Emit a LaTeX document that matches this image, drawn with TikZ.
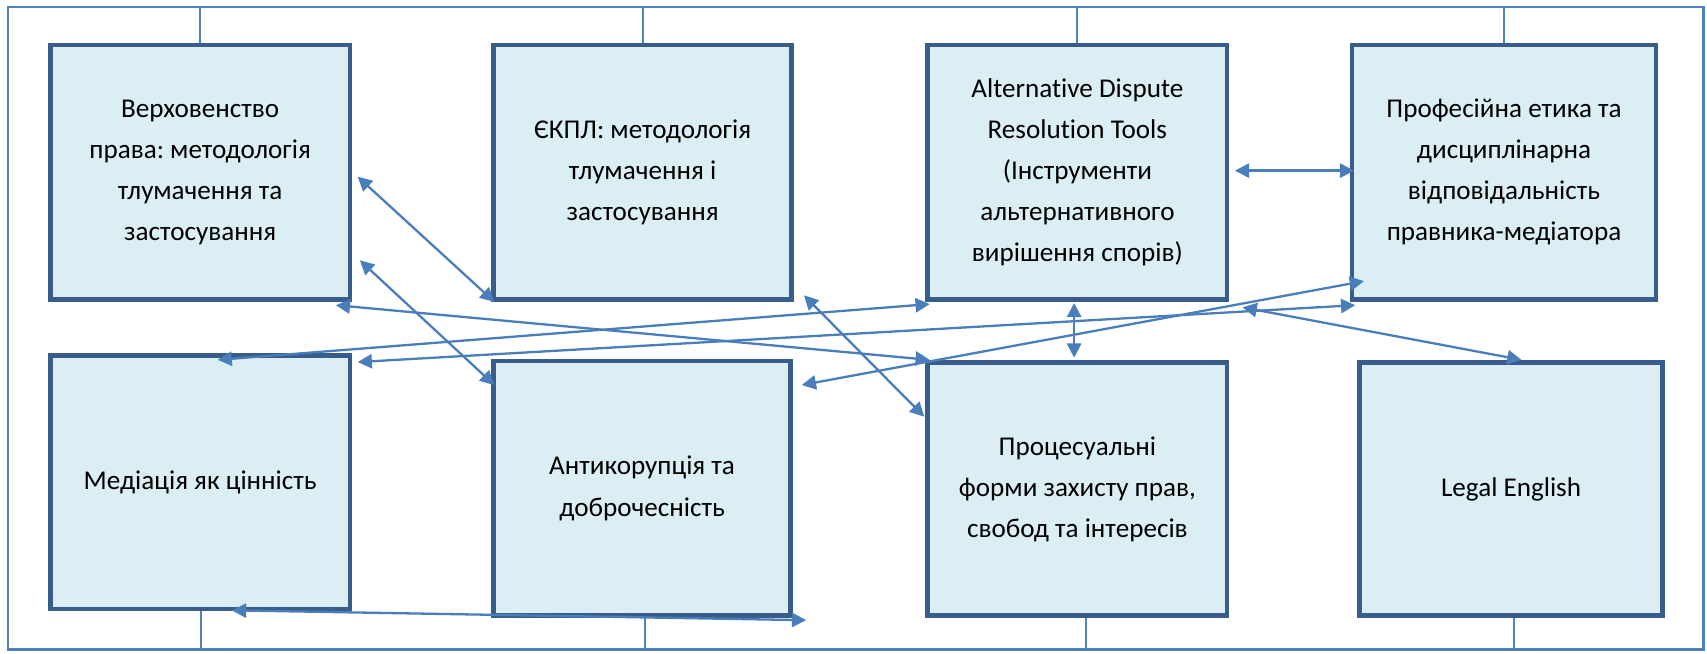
\documentclass[tikz,border=0pt]{standalone}
\usepackage{fontspec}
\setmainfont{Carlito}[Ligatures=CommonOff]
\usetikzlibrary{arrows.meta,calc}
\definecolor{frameblue}{HTML}{4F81BD}
\definecolor{boxborder}{HTML}{385D8A}
\definecolor{boxfill}{HTML}{DBEEF4}
\definecolor{arrowblue}{HTML}{4A7EBB}
\frenchspacing
\tikzset{
  box/.style={draw=boxborder, fill=boxfill, line width=4.3pt, rectangle, align=center,
    font=\fontsize{24.8}{37.5}\selectfont\frenchspacing, inner sep=0pt},
  link/.style={draw=arrowblue, line width=2.1pt,
    {Triangle[length=13pt,width=13pt]}-{Triangle[length=13pt,width=13pt]}},
  tickline/.style={draw=frameblue, line width=1.8pt},
  outerframe/.style={draw=frameblue, line width=2.7pt, rectangle, inner sep=0pt}
}
\begin{document}
\begin{tikzpicture}[x=1pt,y=-1pt]
\useasboundingbox (0,0) rectangle (1560.6,597);
% frame
\node[outerframe, minimum width=1550.2pt, minimum height=587.6pt] (frame) at (782.4,300.2) {};
% boxes
\node[box, minimum width=273.7pt, minimum height=232.7pt] (B1) at (183,157.5)
  {Верховенство\\права: методологія\\тлумачення та\\застосування};
\node[box, minimum width=272.7pt, minimum height=232.7pt] (B2) at (587.5,157.5)
  {ЄКПЛ: методологія\\тлумачення і\\застосування};
\node[box, minimum width=273.7pt, minimum height=232.7pt] (B3) at (985,157.5)
  {Alternative Dispute\\Resolution Tools\\(Інструменти\\альтернативного\\вирішення спорів)};
\node[box, minimum width=277.7pt, minimum height=232.7pt] (B4) at (1375,157.5)
  {Професійна етика та\\дисциплінарна\\відповідальність\\правника-медіатора};
\node[box, minimum width=273.7pt, minimum height=231.7pt] (B5) at (183,441)
  {Медіація як цінність};
\node[box, minimum width=271.7pt, minimum height=232.7pt] (B6) at (587,446.5)
  {Антикорупція та\\доброчесність};
\node[box, minimum width=273.7pt, minimum height=231.7pt] (B7) at (985,447)
  {Процесуальні\\форми захисту прав,\\свобод та інтересів};
\node[box, minimum width=276.7pt, minimum height=231.7pt] (B8) at (1381.5,447)
  {Legal English};
% ticks
\foreach \b in {B1,B2,B3,B4}{
  \draw[tickline] (\b.north) -- (\b.north |- frame.north);
}
\coordinate (t5) at ($(B5.south)+(1,0)$);
\coordinate (t6) at ($(B6.south)+(3,0)$);
\coordinate (t7) at ($(B7.south)+(8,0)$);
\coordinate (t8) at ($(B8.south)+(3,0)$);
\foreach \t in {t5,t6,t7,t8}{
  \draw[tickline] (\t) -- (\t |- frame.south);
}
% arrow end points
\coordinate (a1s) at (327,161.5);  \coordinate (a1e) at (452,276);
\coordinate (a2s) at (329,238);    \coordinate (a2e) at (452,352);
\coordinate (a3s) at (735,270);    \coordinate (a3e) at (845,381);
\coordinate (a4s) at (199,329);    \coordinate (a4e) at (850,278);
\coordinate (a5s) at (327,331);    \coordinate (a5e) at (1239,279);
\coordinate (a6s) at (307,279);    \coordinate (a6e) at (850,329);
\coordinate (a7s) at (733,352);    \coordinate (a7e) at (1247,257);
\coordinate (a8s) at (982,277);    \coordinate (a8e) at (982,327);
\coordinate (a9s) at (1129,156);   \coordinate (a9e) at (1238,156);
\coordinate (a10s) at (1136,281);  \coordinate (a10e) at (1391,329);
\coordinate (a11s) at (212,558);   \coordinate (a11e) at (737,567);
\foreach \i in {1,...,11}{
  \draw[link] (a\i s) -- (a\i e);
}
\end{tikzpicture}
\end{document}
